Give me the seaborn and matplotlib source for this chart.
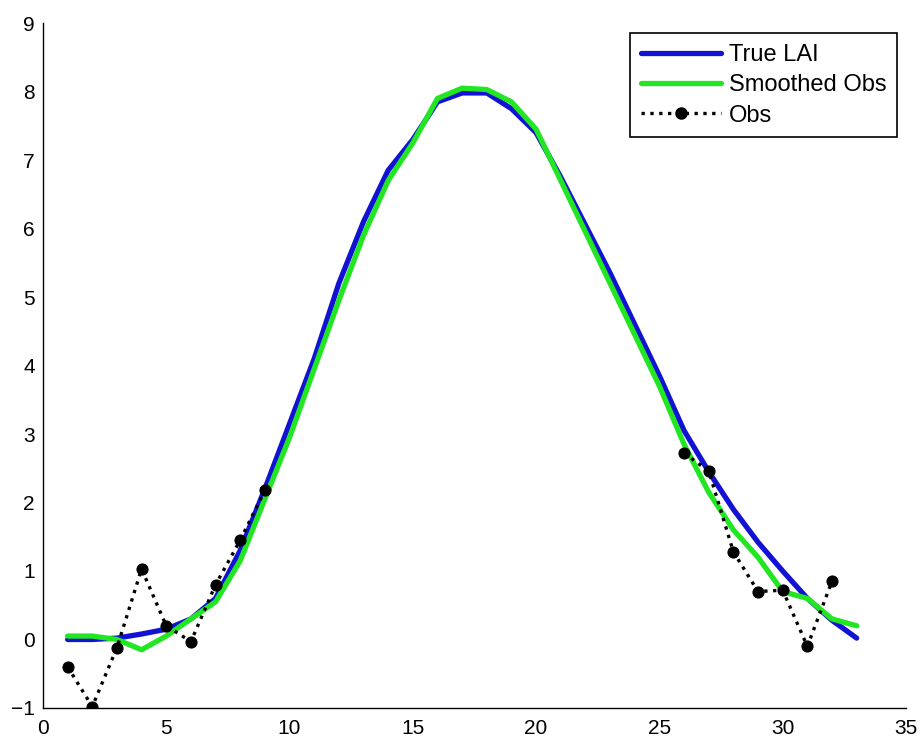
import numpy as np
import pandas as pd
import matplotlib
matplotlib.use("Agg")
import matplotlib.pyplot as plt
import seaborn as sns

# Data
days = list(range(1, 34))
true_lai = [0.0, 0.0, 0.02, 0.08, 0.15, 0.3, 0.6, 1.3, 2.2, 3.15, 4.1, 5.2, 6.1,
            6.85, 7.3, 7.85, 7.98, 7.98, 7.75, 7.4, 6.75, 6.05, 5.35, 4.6, 3.85,
            3.05, 2.45, 1.9, 1.42, 1.0, 0.6, 0.28, 0.02]
smoothed_obs = [0.05, 0.05, 0.0, -0.15, 0.05, 0.3, 0.55, 1.15, 2.05, 2.95, 3.95,
                4.95, 5.9, 6.7, 7.25, 7.9, 8.05, 8.03, 7.85, 7.45, 6.7, 5.95, 5.2,
                4.45, 3.7, 2.85, 2.15, 1.6, 1.2, 0.7, 0.6, 0.3, 0.2]
obs_days = [1, 2, 3, 4, 5, 6, 7, 8, 9, 26, 27, 28, 29, 30, 31, 32]
obs_vals = [-0.4, -0.98, -0.12, 1.03, 0.2, -0.03, 0.8, 1.45, 2.18,
            2.72, 2.46, 1.28, 0.7, 0.72, -0.1, 0.85]
obs_segment = [0] * 9 + [1] * 7

x_ticks = [0, 5, 10, 15, 20, 25, 30, 35]
y_ticks = [-1, 0, 1, 2, 3, 4, 5, 6, 7, 8, 9]

sns.set_style("white")
plt.rcParams['font.family'] = ['Liberation Sans', 'DejaVu Sans']
plt.rcParams['text.color'] = 'black'

fig = plt.figure(figsize=(9.24, 7.45), dpi=100)
ax = fig.add_axes([0.0465, 0.0497, 0.934, 0.9193])

curves = pd.DataFrame({'day': days, 'true': true_lai, 'smooth': smoothed_obs})
obs = pd.DataFrame({'day': obs_days, 'val': obs_vals, 'seg': obs_segment})

sns.lineplot(data=curves, x='day', y='true', color='#1212d4', linewidth=3.8,
             ax=ax, label='True LAI')
sns.lineplot(data=curves, x='day', y='smooth', color='#22e622', linewidth=3.8,
             ax=ax, label='Smoothed Obs')
sns.lineplot(data=obs, x='day', y='val', units='seg', estimator=None,
             color='black', linestyle=':', linewidth=2.4, marker='o',
             markersize=8, markeredgecolor='black', ax=ax, legend=False)

ax.set_xlim(0, 35)
ax.set_ylim(-1, 9)
ax.set_xticks(x_ticks)
ax.set_yticks(y_ticks)
ax.set_xlabel('')
ax.set_ylabel('')
ax.tick_params(direction='in', length=6, width=1, labelsize=15, colors='black')
ax.tick_params(axis='x', pad=8)
ax.tick_params(axis='y', pad=6)
for side in ['top', 'right']:
    ax.spines[side].set_visible(False)
for side in ['left', 'bottom']:
    ax.spines[side].set_color('black')
    ax.spines[side].set_linewidth(1)

# legend: one entry per series (obs drawn in two pieces)
handles, labels = ax.get_legend_handles_labels()
obs_handle = plt.Line2D([], [], color='black', linestyle=':', linewidth=2.4,
                        marker='o', markersize=8)
leg = ax.legend(handles[:2] + [obs_handle], ['True LAI', 'Smoothed Obs', 'Obs'],
                loc='upper right', bbox_to_anchor=(0.99, 0.985), borderaxespad=0,
                fontsize=17, handlelength=3.4, numpoints=1, fancybox=False,
                framealpha=1, edgecolor='black', labelspacing=0.35,
                handletextpad=0.35, borderpad=0.45, labelcolor='black')
leg.get_frame().set_linewidth(1.2)

fig.savefig('out.png', dpi=100)
